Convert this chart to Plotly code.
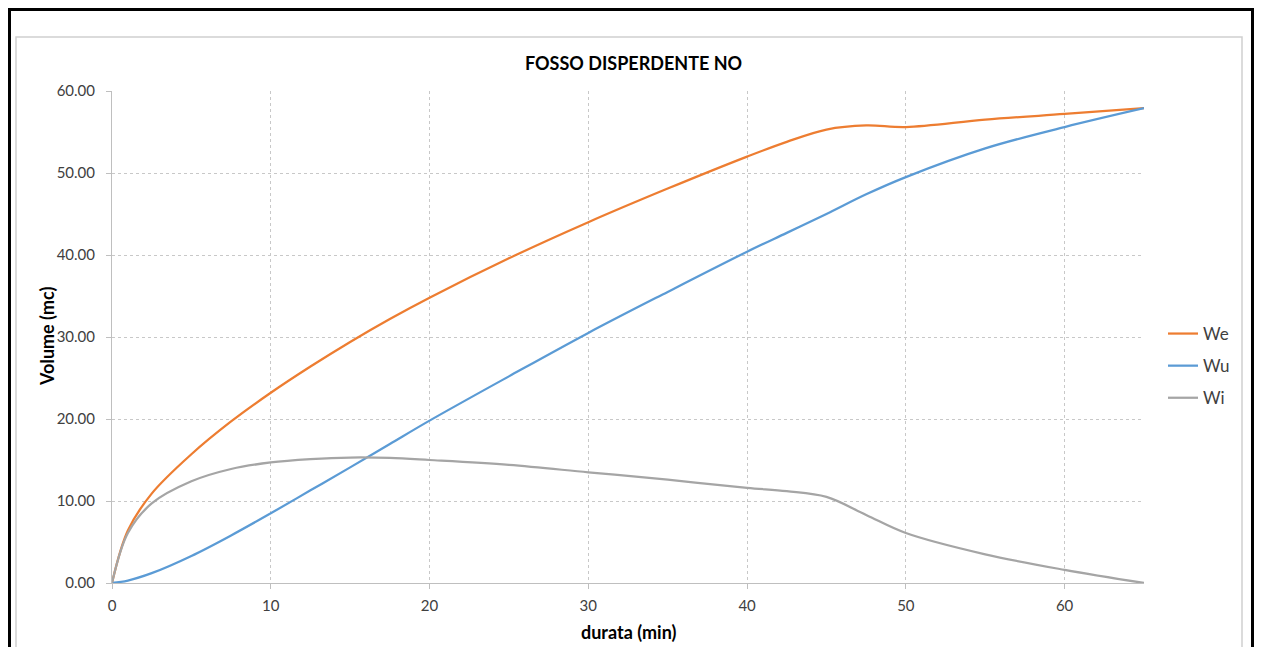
import plotly.graph_objects as go

durata = [0, 1, 2.5, 5, 7.5, 10, 12.5, 15, 17.5, 20, 25, 30, 35, 40, 42.5, 45, 47.5, 50, 55, 60, 65]
We = [0, 6.4, 10.9, 15.7, 19.7, 23.2, 26.4, 29.4, 32.2, 34.8, 39.6, 44.0, 48.1, 52.0, 53.8, 55.3, 55.8, 55.6, 56.5, 57.2, 57.9]
Wu = [0, 0.3, 1.2, 3.3, 5.8, 8.5, 11.3, 14.1, 16.95, 19.8, 25.2, 30.5, 35.5, 40.4, 42.7, 45.0, 47.4, 49.5, 53.0, 55.6, 57.9]
Wi = [0, 6.1, 9.7, 12.4, 13.9, 14.7, 15.1, 15.3, 15.25, 15.0, 14.4, 13.5, 12.6, 11.6, 11.2, 10.5, 8.3, 6.1, 3.5, 1.6, 0.0]

series = [("We", We, "#ED7D31"), ("Wu", Wu, "#5B9BD5"), ("Wi", Wi, "#A5A5A5")]

FONT = "Lato"
OFF = 8  # page body margin
W, H = 1262 - 2 * OFF, 655 - 2 * OFF
L, R, T, B = 112 - OFF, 1144 - OFF, 91 - OFF, 583 - OFF


def px(x):  # page pixel -> paper
    return (x - OFF - L) / (R - L)


def py(y):
    return (B - (y - OFF)) / (B - T)


fig = go.Figure()
for name, vals, col in series:
    fig.add_trace(go.Scatter(x=durata, y=vals, name=name, mode="lines",
                             line=dict(color=col, width=2.25, shape="spline", smoothing=1.0, simplify=False),
                             legendgroup=name))

axis_common = dict(showline=True, linecolor="#BFBFBF", linewidth=1,
                   showgrid=True, gridcolor="#C8C8C8", griddash="dot", gridwidth=1,
                   ticks="outside", ticklen=5, tickcolor="#BFBFBF", zeroline=False,
                   tickfont=dict(family=FONT, size=15, color="#404040"))

fig.update_layout(
    width=W, height=H,
    margin=dict(l=L, r=W - R, t=T, b=H - B),
    paper_bgcolor="white", plot_bgcolor="white",
    font=dict(family=FONT, size=15, color="#404040"),
    showlegend=True,
    legend=dict(x=px(1163), xanchor="left", y=py(366), yanchor="middle",
                font=dict(family=FONT, size=17, color="#404040"),
                traceorder="grouped", tracegroupgap=7, itemwidth=30,
                bgcolor="rgba(0,0,0,0)"),
    xaxis=dict(range=[0, 65], dtick=10, tick0=0, ticklabelstandoff=4, **axis_common),
    yaxis=dict(range=[0, 60], dtick=10, tick0=0, tickformat=".2f", ticklabelstandoff=8, **axis_common),
    annotations=[
        dict(text="<b>FOSSO DISPERDENTE NO</b>", x=px(633), y=py(63), xref="paper", yref="paper",
             xanchor="center", yanchor="middle", showarrow=False,
             font=dict(family=FONT, size=18, color="#000000")),
        dict(text="<b>durata (min)</b>", x=px(629), y=py(632), xref="paper", yref="paper",
             xanchor="center", yanchor="middle", showarrow=False,
             font=dict(family=FONT, size=18, color="#000000")),
        dict(text="<b>Volume (mc)</b>", x=px(47), y=py(337), xref="paper", yref="paper",
             xanchor="center", yanchor="middle", showarrow=False, textangle=-90,
             font=dict(family=FONT, size=18, color="#000000")),
    ],
    shapes=[
        dict(type="rect", xref="paper", yref="paper", x0=px(16), x1=px(1242), y0=py(720), y1=py(37),
             line=dict(color="#D0D0D0", width=1.5), layer="below"),
        dict(type="rect", xref="paper", yref="paper", x0=px(OFF + 1.5), x1=px(OFF + W - 1.5), y0=py(740), y1=py(OFF + 1.5),
             line=dict(color="#000000", width=3), layer="below"),
    ],
)

fig.write_html("out.html")
